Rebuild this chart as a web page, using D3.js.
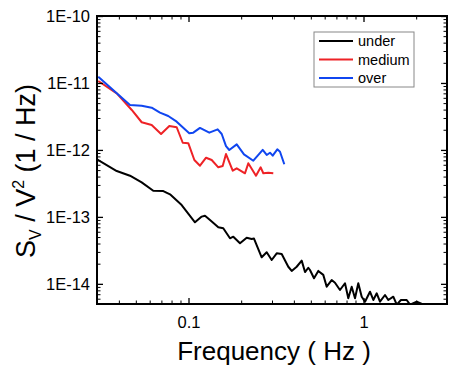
<!DOCTYPE html>
<html>
<head>
<meta charset="utf-8">
<script src="https://cdn.jsdelivr.net/npm/d3@7"></script>
<style>
body { margin: 0; background: #fff; }
text { font-family: "Liberation Sans", Arial, sans-serif; fill: #000; }
</style>
</head>
<body>
<svg width="450" height="367"></svg>
<script>
// (Hz, 1/Hz)
var freqUnder = [0.0300,0.0389,0.0463,0.0540,0.0629,0.0718,0.0784,0.0914,0.1089,0.119,0.1242,0.1327,0.148,0.158,0.1726,0.1803,0.1969,0.2150,0.2297,0.2367,0.2619,0.2798,0.2988,0.3192,0.3408,0.3717,0.3888,0.4152,0.4434,0.4632,0.4836,0.4945,0.5214,0.5516,0.5891,0.6161,0.6579,0.6872,0.7338,0.7838,0.8186,0.8560,0.8942,0.9337,0.9766,1.020,1.089,1.138,1.190,1.242,1.327,1.386,1.480,1.548,1.637,1.765,1.844,2.014,2.244];
var under = [7.24e-13,4.84e-13,4.12e-13,3.28e-13,2.46e-13,2.43e-13,2.17e-13,1.50e-13,8.30e-14,1.01e-13,1.04e-13,8.98e-14,6.99e-14,6.75e-14,4.79e-14,5.06e-14,4.03e-14,4.89e-14,4.67e-14,4.75e-14,2.49e-14,2.96e-14,2.27e-14,2.86e-14,2.79e-14,1.80e-14,1.56e-14,1.80e-14,2.22e-14,1.50e-14,1.74e-14,1.61e-14,1.21e-14,1.56e-14,1.36e-14,9.07e-15,1.14e-14,1.04e-14,8.09e-15,1.02e-14,6.08e-15,9.07e-15,6.08e-15,1.02e-14,6.43e-15,5.41e-15,7.63e-15,5.74e-15,7.22e-15,5.41e-15,6.81e-15,5.74e-15,6.43e-15,4.9e-15,5.74e-15,5.74e-15,4.9e-15,5.41e-15,4.8e-15];

var freqMedium = [0.0305,0.0389,0.0474,0.0540,0.0616,0.0697,0.0777,0.0856,0.0927,0.0997,0.108,0.1163,0.126,0.1357,0.148,0.1568,0.1638,0.1789,0.1886,0.2103,0.2196,0.2430,0.2585,0.2676,0.2858,0.3051];
var medium = [1.07e-11,7.0e-12,3.95e-12,2.59e-12,2.36e-12,1.73e-12,2.28e-12,2.18e-12,1.28e-12,1.26e-12,7.07e-13,5.81e-13,7.65e-13,7.07e-13,5.50e-13,5.75e-13,8.69e-13,4.89e-13,5.31e-13,4.48e-13,6.31e-13,4.12e-13,5.50e-13,4.48e-13,4.57e-13,4.48e-13];

var freqOver = [0.0305,0.0389,0.0463,0.0540,0.0616,0.0687,0.0766,0.0856,0.101,0.1065,0.1163,0.1315,0.1468,0.1548,0.1638,0.1710,0.1886,0.2075,0.2346,0.2655,0.2798,0.2922,0.3028,0.3217,0.3333,0.3527];
var over = [1.24e-11,7.0e-12,4.69e-12,4.57e-12,4.27e-12,3.60e-12,3.21e-12,2.64e-12,1.77e-12,1.81e-12,2.13e-12,1.81e-12,2.03e-12,1.73e-12,1.14e-12,9.97e-13,1.21e-12,8.60e-13,6.90e-13,1.0e-12,8.40e-13,9.09e-13,8.20e-13,1.02e-12,9.40e-13,6.10e-13];

var seriesNames = ["under", "medium", "over"];
var seriesColors = ["#000000", "#ee2226", "#1046f0"];

var svg = d3.select("svg");
var margins = {top: 16, right: 3, bottom: 63, left: 97};
var W = 450, H = 367;

var x = d3.scaleLog().domain([0.03, 3]).range([margins.left, W - margins.right]);
var y = d3.scaleLog().domain([5e-15, 1e-10]).range([H - margins.bottom, margins.top]);

function isMajor(d) {
  var l = Math.log10(d);
  return Math.abs(l - Math.round(l)) < 1e-6;
}

svg.append("clipPath").attr("id", "clip")
  .append("rect")
  .attr("x", x.range()[0]).attr("y", y.range()[1])
  .attr("width", x.range()[1] - x.range()[0])
  .attr("height", y.range()[0] - y.range()[1]);

var line = d3.line()
  .x(function(d){ return x(d[0]); })
  .y(function(d){ return y(d[1]); });

var allData = [
  d3.zip(freqUnder, under),
  d3.zip(freqMedium, medium),
  d3.zip(freqOver, over)
];

svg.append("g").attr("clip-path", "url(#clip)")
  .selectAll("path")
  .data(allData)
  .enter()
  .append("path")
  .attr("d", line)
  .attr("fill", "none")
  .attr("stroke", function(d, i){ return seriesColors[i]; })
  .attr("stroke-width", 2)
  .attr("stroke-linejoin", "round");

// ticks (inward, mirrored on all sides)
var xMinor = x.ticks().filter(function(d){ return !isMajor(d); });
var xMajor = x.ticks().filter(isMajor);
var yMinor = y.ticks().filter(function(d){ return !isMajor(d); });
var yMajor = y.ticks().filter(isMajor);

function addAxes(axisFn, scale, tr, major, minor, labels) {
  svg.append("g").attr("transform", tr)
    .call(axisFn(scale).tickValues(minor).tickSize(-3.5).tickFormat(""))
    .call(function(g){ g.select(".domain").remove(); });
  var g = svg.append("g").attr("transform", tr)
    .call(axisFn(scale).tickValues(major).tickSize(-6).tickPadding(labels ? 9 : 0)
      .tickFormat(labels ? labels : ""));
  g.select(".domain").remove();
  g.selectAll("line").attr("stroke-width", 1.3);
  return g;
}

var bottom = addAxes(d3.axisBottom, x, "translate(0," + y.range()[0] + ")", xMajor, xMinor,
  function(d){ return d >= 1 ? d3.format("d")(d) : String(d); });
bottom.selectAll("text").attr("font-size", 16.5).attr("dy", "0.9em");
addAxes(d3.axisTop, x, "translate(0," + y.range()[1] + ")", xMajor, xMinor, null);

var left = addAxes(d3.axisLeft, y, "translate(" + x.range()[0] + ",0)", yMajor, yMinor,
  function(d){ return "1E" + Math.round(Math.log10(d)); });
left.selectAll("text").attr("font-size", 16.5).attr("x", -7);
addAxes(d3.axisRight, y, "translate(" + x.range()[1] + ",0)", yMajor, yMinor, null);

svg.selectAll(".tick line").attr("stroke", "#000");
svg.selectAll(".tick text").attr("fill", "#000").attr("font-family", "Liberation Sans, Arial, sans-serif");

// frame
svg.append("rect")
  .attr("x", x.range()[0]).attr("y", y.range()[1])
  .attr("width", x.range()[1] - x.range()[0])
  .attr("height", y.range()[0] - y.range()[1])
  .attr("fill", "none").attr("stroke", "#000").attr("stroke-width", 2);

// axis titles
svg.append("text")
  .attr("x", (x.range()[0] + x.range()[1]) / 2 + 2)
  .attr("y", 360)
  .attr("text-anchor", "middle")
  .attr("font-size", 26)
  .text("Frequency ( Hz )");

var yt = svg.append("text")
  .attr("transform", "translate(35,171) rotate(-90)")
  .attr("text-anchor", "middle")
  .attr("font-size", 27);
yt.append("tspan").text("S");
yt.append("tspan").attr("font-size", 16).attr("dy", 6).text("V");
yt.append("tspan").attr("dy", -6).text(" / V");
yt.append("tspan").attr("font-size", 16).attr("dy", -11).text("2");
yt.append("tspan").attr("dy", 11).text(" (1 / Hz)");

// legend
var legend = svg.append("g");
legend.append("rect")
  .attr("x", 314).attr("y", 32).attr("width", 100).attr("height", 55)
  .attr("fill", "#fff").attr("stroke", "#888").attr("stroke-width", 1);
var items = legend.selectAll("g.item")
  .data(seriesNames)
  .enter().append("g")
  .attr("transform", function(d, i){ return "translate(0," + (41 + i * 18.5) + ")"; });
items.append("line")
  .attr("x1", 319).attr("x2", 353)
  .attr("stroke", function(d, i){ return seriesColors[i]; })
  .attr("stroke-width", 2);
items.append("text")
  .attr("x", 358).attr("dy", "0.35em")
  .attr("font-size", 14.5)
  .text(function(d){ return d; });
</script>
</body>
</html>
